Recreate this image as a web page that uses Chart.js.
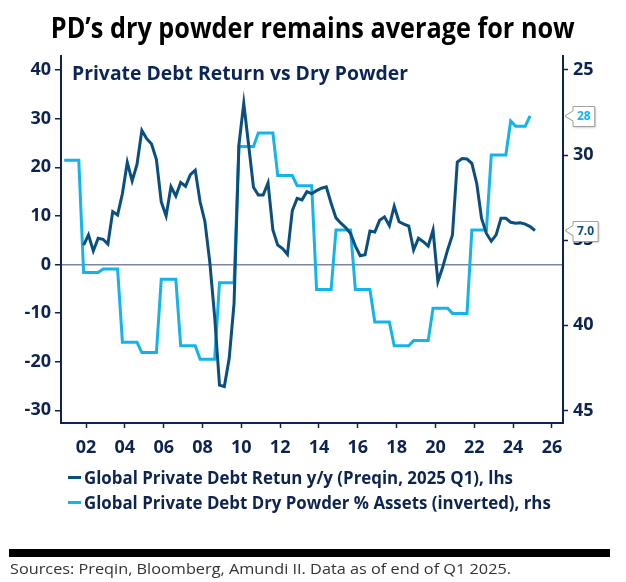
<!DOCTYPE html>
<html>
<head>
<meta charset="utf-8">
<script src="https://cdn.jsdelivr.net/npm/chart.js@4.4.1/dist/chart.umd.min.js"></script>
<style>
  body { margin: 0; background: #fff; }
  #wrap { position: relative; width: 626px; height: 582px; overflow: hidden; font-family: "Open Sans", "Noto Sans", sans-serif; }
  #chart-box { position: absolute; left: 0; top: 0; width: 626px; height: 582px; }
  #title { position: absolute; left: 0; top: 8px; width: 626px; text-align: center; white-space: nowrap;
           font-size: 29px; font-weight: 700; color: #000; line-height: 38px; }
  .fit { display: inline-block; white-space: nowrap; }
  #title .fit { transform-origin: center center; }
  #legend { position: absolute; left: 68px; top: 466px; color: #0d2350; font-size: 17px; font-weight: 700; }
  .row { position: relative; height: 25px; line-height: 23px; white-space: nowrap; }
  .row .swatch { position: absolute; left: 0; top: 10px; width: 13px; height: 3px; }
  .row .fit { position: absolute; left: 16px; top: 0; transform-origin: left center; }
  #bar { position: absolute; left: 9px; top: 549px; width: 601px; height: 8px; background: #000; }
  #sources { position: absolute; left: 10px; top: 558px; font-size: 15px; color: #333; line-height: 20px; }
  #sources .fit { transform-origin: left center; }
</style>
</head>
<body>
<div id="wrap">
  <div id="chart-box"><canvas id="chart"></canvas></div>
  <div id="title"><span class="fit" data-w="524">PD’s dry powder remains average for now</span></div>
  <div id="legend">
    <div class="row"><span class="swatch" style="background:#0b4f7f"></span><span class="fit" data-w="429">Global Private Debt Retun y/y (Preqin, 2025 Q1), lhs</span></div>
    <div class="row"><span class="swatch" style="background:#14b4ea"></span><span class="fit" data-w="467">Global Private Debt Dry Powder % Assets (inverted), rhs</span></div>
  </div>
  <div id="bar"></div>
  <div id="sources"><span class="fit" data-w="501">Sources: Preqin, Bloomberg, Amundi II. Data as of end of Q1 2025.</span></div>
</div>
<script>
// Quarters shared by both series
const quarters = [
  "2000 Q4",
  "2001 Q1", "2001 Q2", "2001 Q3", "2001 Q4",
  "2002 Q1", "2002 Q2", "2002 Q3", "2002 Q4",
  "2003 Q1", "2003 Q2", "2003 Q3", "2003 Q4",
  "2004 Q1", "2004 Q2", "2004 Q3", "2004 Q4",
  "2005 Q1", "2005 Q2", "2005 Q3", "2005 Q4",
  "2006 Q1", "2006 Q2", "2006 Q3", "2006 Q4",
  "2007 Q1", "2007 Q2", "2007 Q3", "2007 Q4",
  "2008 Q1", "2008 Q2", "2008 Q3", "2008 Q4",
  "2009 Q1", "2009 Q2", "2009 Q3", "2009 Q4",
  "2010 Q1", "2010 Q2", "2010 Q3", "2010 Q4",
  "2011 Q1", "2011 Q2", "2011 Q3", "2011 Q4",
  "2012 Q1", "2012 Q2", "2012 Q3", "2012 Q4",
  "2013 Q1", "2013 Q2", "2013 Q3", "2013 Q4",
  "2014 Q1", "2014 Q2", "2014 Q3", "2014 Q4",
  "2015 Q1", "2015 Q2", "2015 Q3", "2015 Q4",
  "2016 Q1", "2016 Q2", "2016 Q3", "2016 Q4",
  "2017 Q1", "2017 Q2", "2017 Q3", "2017 Q4",
  "2018 Q1", "2018 Q2", "2018 Q3", "2018 Q4",
  "2019 Q1", "2019 Q2", "2019 Q3", "2019 Q4",
  "2020 Q1", "2020 Q2", "2020 Q3", "2020 Q4",
  "2021 Q1", "2021 Q2", "2021 Q3", "2021 Q4",
  "2022 Q1", "2022 Q2", "2022 Q3", "2022 Q4",
  "2023 Q1", "2023 Q2", "2023 Q3", "2023 Q4",
  "2024 Q1", "2024 Q2", "2024 Q3", "2024 Q4",
  "2025 Q1"
];

// Global private debt return y/y, % (left axis)
const returnValues = [
  null,
  null, null, null, 4.0,
  6.1, 2.8, 5.4, 5.2,
  4.2, 10.9, 10.2, 14.6,
  21.0, 17.2, 20.6, 27.6,
  25.9, 24.8, 21.6, 12.9,
  10.0, 16.0, 14.1, 16.9,
  16.1, 18.5, 19.4, 12.9,
  8.8, 0.5, -10.7, -24.8,
  -25.1, -19.3, -8.0, 24.6,
  33.2, 24.6, 15.9, 14.3,
  14.3, 16.8, 7.1, 4.0,
  3.3, 2.1, 11.1, 13.6,
  13.3, 15.0, 14.6, 15.2,
  15.7, 16.0, 12.6, 9.6,
  8.5, 7.6, 6.4, 3.8,
  1.8, 2.0, 6.9, 6.7,
  9.1, 9.8, 8.0, 12.0,
  8.8, 8.3, 7.9, 3.0,
  5.4, 4.7, 3.8, 7.1,
  -3.5, -0.5, 3.0, 6.1,
  21.1, 21.8, 21.7, 20.8,
  16.7, 9.5, 6.4, 4.8,
  6.1, 9.5, 9.5, 8.7,
  8.5, 8.6, 8.3, 7.8,
  7.0
];

// Global private debt dry powder, % of assets (right axis, inverted)
const dryPowder = [
  30.3,
  30.3, 30.3, 30.3, 36.9,
  36.9, 36.9, 36.9, 36.7,
  36.7, 36.7, 36.7, 41.0,
  41.0, 41.0, 41.0, 41.6,
  41.6, 41.6, 41.6, 37.3,
  37.3, 37.3, 37.3, 41.2,
  41.2, 41.2, 41.2, 42.0,
  42.0, 42.0, 42.0, 37.5,
  37.5, 37.5, 37.5, 29.5,
  29.5, 29.5, 29.5, 28.7,
  28.7, 28.7, 28.7, 31.2,
  31.2, 31.2, 31.2, 31.8,
  31.8, 31.8, 31.8, 37.9,
  37.9, 37.9, 37.9, 34.4,
  34.4, 34.4, 34.4, 37.9,
  37.9, 37.9, 37.9, 39.8,
  39.8, 39.8, 39.8, 41.2,
  41.2, 41.2, 41.2, 40.9,
  40.9, 40.9, 40.9, 39.0,
  39.0, 39.0, 39.0, 39.3,
  39.3, 39.3, 39.3, 34.4,
  34.4, 34.4, 34.4, 30.0,
  30.0, 30.0, 30.0, 28.0,
  28.3, 28.3, 28.3, 27.7,
  null
];

const xTicks = [2002, 2004, 2006, 2008, 2010, 2012, 2014, 2016, 2018, 2020, 2022, 2024, 2026];
const leftTicks = [-30, -20, -10, 0, 10, 20, 30, 40];
const rightTicks = [25, 30, 35, 40, 45];

const navy = "#0d2350";
const darkBlue = "#0b4f7f";
const lightBlue = "#14b4ea";
const zeroGray = "#7b87a0";
const tickFont = { family: "'Open Sans', 'Noto Sans', sans-serif", size: 18, weight: "700" };

// "2001 Q4" -> middle of that quarter in decimal years
function quarterToYear(q) {
  const [y, qq] = q.split(" Q");
  return +y + (+qq - 1) * 0.25 + 0.125;
}

function toPoints(values) {
  return values.map((v, i) => ({ x: quarterToYear(quarters[i]), y: v }));
}

function lastValue(values) {
  for (let i = values.length - 1; i >= 0; i--) if (values[i] !== null) return values[i];
  return null;
}

// Subtitle in the plot and value boxes on the right axis
const overlayPlugin = {
  id: "overlay",
  afterDraw(chart) {
    const { ctx, chartArea, scales } = chart;
    ctx.save();
    ctx.fillStyle = "#0c2557";
    ctx.font = "700 19px 'Open Sans', 'Noto Sans', sans-serif";
    ctx.textAlign = "left";
    ctx.textBaseline = "alphabetic";
    const sub = "Private Debt Return vs Dry Powder";
    const sx = 336 / ctx.measureText(sub).width;
    ctx.translate(72, 80);
    ctx.scale(sx, 1);
    ctx.fillText(sub, 0, 0);
    ctx.restore();

    ctx.save();
    const boxes = [
      { y: scales.yRight.getPixelForValue(lastValue(dryPowder)), text: lastValue(dryPowder).toFixed(0), color: lightBlue },
      { y: scales.yLeft.getPixelForValue(lastValue(returnValues)), text: lastValue(returnValues).toFixed(1), color: darkBlue }
    ];
    ctx.font = "700 12px 'Open Sans', 'Noto Sans', sans-serif";
    boxes.forEach(b => {
      const tip = chartArea.right + 2;
      const x0 = chartArea.right + 10;
      const w = ctx.measureText(b.text).width + 8;
      const h = 20;
      const top = Math.round(b.y - h / 2) + 0.5;
      ctx.save();
      ctx.shadowColor = "rgba(0,0,0,0.25)";
      ctx.shadowOffsetX = 1;
      ctx.shadowOffsetY = 1;
      ctx.shadowBlur = 2;
      ctx.beginPath();
      ctx.moveTo(x0, top);
      ctx.lineTo(x0 + w, top);
      ctx.lineTo(x0 + w, top + h);
      ctx.lineTo(x0, top + h);
      ctx.lineTo(x0, b.y + 5);
      ctx.lineTo(tip, b.y);
      ctx.lineTo(x0, b.y - 5);
      ctx.closePath();
      ctx.fillStyle = "#fff";
      ctx.fill();
      ctx.restore();
      ctx.strokeStyle = "#a0a0a0";
      ctx.lineWidth = 1;
      ctx.stroke();
      ctx.fillStyle = b.color;
      ctx.textAlign = "center";
      ctx.textBaseline = "middle";
      ctx.fillText(b.text, x0 + w / 2, b.y + 1);
    });
    ctx.restore();
  }
};

const ctx = document.getElementById("chart").getContext("2d");
const chart = new Chart(ctx, {
  type: "line",
  data: {
    datasets: [
      {
        label: "Global Private Debt Retun y/y (Preqin, 2025 Q1), lhs",
        data: toPoints(returnValues),
        yAxisID: "yLeft",
        borderColor: darkBlue,
        borderWidth: 3,
        pointRadius: 0,
        tension: 0,
        spanGaps: false
      },
      {
        label: "Global Private Debt Dry Powder % Assets (inverted), rhs",
        data: toPoints(dryPowder),
        yAxisID: "yRight",
        borderColor: lightBlue,
        borderWidth: 3,
        pointRadius: 0,
        tension: 0
      }
    ]
  },
  options: {
    responsive: true,
    maintainAspectRatio: false,
    animation: false,
    layout: { padding: { top: 56, left: 0, right: 0, bottom: 0 } },
    plugins: { legend: { display: false }, tooltip: { enabled: false } },
    scales: {
      x: {
        type: "linear",
        min: 2000.71,
        max: 2026.57,
        afterBuildTicks: s => { s.ticks = xTicks.map(v => ({ value: v })); },
        afterFit: s => { s.height = 582 - 423; },
        ticks: { callback: v => String(v).slice(2), font: tickFont, color: navy, padding: 9, maxRotation: 0, autoSkip: false },
        grid: { drawOnChartArea: false, tickLength: 5, tickColor: navy, tickWidth: 1.5 },
        border: { color: navy, width: 2 }
      },
      yLeft: {
        position: "left",
        min: -32.6,
        max: 42.9,
        afterBuildTicks: s => { s.ticks = leftTicks.map(v => ({ value: v })); },
        afterFit: s => { s.width = 61; },
        ticks: { font: tickFont, color: navy, padding: 4 },
        grid: {
          color: c => (c.tick && c.tick.value === 0 ? zeroGray : "rgba(0,0,0,0)"),
          lineWidth: 1.5,
          tickColor: navy,
          tickLength: 6,
          tickWidth: 1.5
        },
        border: { color: navy, width: 2 }
      },
      yRight: {
        position: "right",
        reverse: true,
        min: 24.18,
        max: 45.74,
        afterBuildTicks: s => { s.ticks = rightTicks.map(v => ({ value: v })); },
        afterFit: s => { s.width = 63; },
        ticks: { font: tickFont, color: navy, padding: 5 },
        grid: { drawOnChartArea: false, tickColor: navy, tickLength: 5, tickWidth: 1.5 },
        border: { color: navy, width: 2 }
      }
    }
  },
  plugins: [overlayPlugin]
});

// Squeeze the html texts to the widths of the reference
document.querySelectorAll(".fit").forEach(el => {
  const w = el.getBoundingClientRect().width;
  const target = +el.dataset.w;
  if (w > 0) el.style.transform = "scaleX(" + (target / w).toFixed(3) + ")";
});
</script>
</body>
</html>
